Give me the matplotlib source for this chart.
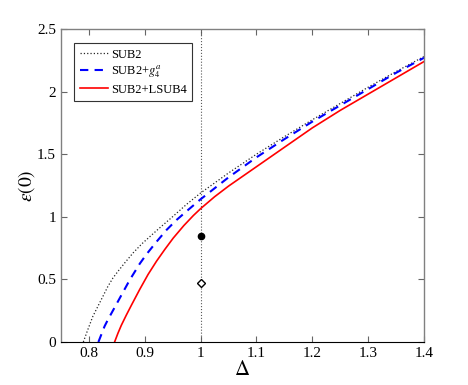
import matplotlib
matplotlib.use('Agg')
import matplotlib.pyplot as plt
from matplotlib.ticker import FuncFormatter

plt.rcParams['font.family'] = ['Liberation Serif', 'DejaVu Serif']
plt.rcParams['mathtext.fontset'] = 'stix'

# SUB2 (dotted)
d_sub2 = [0.790, 0.798, 0.807, 0.816, 0.825, 0.834, 0.843, 0.852, 0.864, 0.879,
          0.895, 0.925, 0.951, 0.975, 1.000, 1.050, 1.100, 1.150, 1.200,
          1.250, 1.300, 1.350, 1.400]
e_sub2 = [0.00, 0.098, 0.204, 0.284, 0.364, 0.444, 0.511, 0.564, 0.631, 0.711,
          0.785, 0.905, 1.005, 1.10, 1.19, 1.35, 1.50, 1.64, 1.775,
          1.905, 2.035, 2.16, 2.28]

# SUB2+g4a (dashed)
d_g4 = [0.817, 0.828, 0.834, 0.852, 0.873, 0.891, 0.903, 0.920, 0.939, 0.957,
        0.975, 1.000, 1.050, 1.100, 1.150, 1.200, 1.250, 1.300, 1.350, 1.400]
e_g4 = [0.00, 0.125, 0.178, 0.324, 0.495, 0.625, 0.70, 0.795, 0.895, 0.975,
        1.045, 1.14, 1.315, 1.475, 1.62, 1.76, 1.89, 2.02, 2.15, 2.27]

# SUB2+LSUB4 (solid)
d_lsub4 = [0.846, 0.852, 0.858, 0.867, 0.876, 0.891, 0.906, 0.921, 0.936,
           0.951, 0.970, 0.987, 1.000, 1.025, 1.050, 1.100, 1.150, 1.200,
           1.250, 1.300, 1.350, 1.400]
e_lsub4 = [0.00, 0.07, 0.133, 0.215, 0.293, 0.42, 0.54, 0.645, 0.74,
           0.83, 0.93, 1.01, 1.065, 1.16, 1.245, 1.40, 1.555, 1.71,
           1.85, 1.98, 2.11, 2.24]

# single points at Delta = 1
pt_filled = (1.0, 0.849)
pt_open = (1.0, 0.474)

xticks = [0.8, 0.9, 1.0, 1.1, 1.2, 1.3, 1.4]
yticks = [0, 0.5, 1, 1.5, 2, 2.5]

fig = plt.figure(figsize=(4.68, 3.85), dpi=100)
ax = fig.add_axes([0.1303, 0.1117, 0.7757, 0.813])

ax.axvline(1.0, color='0.35', linestyle=':', linewidth=0.8)
ax.plot(d_sub2, e_sub2, ':', color='0.15', linewidth=0.9, label='SUB2')
ax.plot(d_g4, e_g4, '--', color='b', linewidth=1.5, dashes=(4, 3),
        label=r'SUB2+$g_4^a$')
ax.plot(d_lsub4, e_lsub4, '-', color='r', linewidth=1.2, label='SUB2+LSUB4')
ax.plot([pt_filled[0]], [pt_filled[1]], 'o', color='k', markersize=4.5)
ax.plot([pt_open[0]], [pt_open[1]], 'D', markerfacecolor='w',
        markeredgecolor='k', markersize=4, markeredgewidth=1.0)

ax.set_xlim(0.75, 1.4)
ax.set_ylim(0, 2.5)
ax.set_xticks(xticks)
ax.set_yticks(yticks)
ax.xaxis.set_major_formatter(FuncFormatter(lambda v, p: '%g' % round(v, 3)))
ax.yaxis.set_major_formatter(FuncFormatter(lambda v, p: '%g' % round(v, 3)))
ax.tick_params(direction='in', top=True, right=True, labelsize=11,
               length=4, color='0.4')

for s in ['left', 'top', 'right']:
    ax.spines[s].set_color('0.5')
    ax.spines[s].set_linewidth(1.0)
ax.spines['bottom'].set_color('k')

ax.set_xlabel(r'$\Delta$', fontsize=15, labelpad=1)
ax.set_ylabel(r'$\varepsilon(0)$', fontsize=14)
ax.yaxis.set_label_coords(-0.066, 0.5)

leg = ax.legend(loc='upper left', bbox_to_anchor=(0.036, 0.955), fontsize=9,
                fancybox=False, framealpha=1, edgecolor='0.2',
                borderaxespad=0, handlelength=2.3, handletextpad=0.2,
                borderpad=0.45, labelspacing=0.25)
leg.get_frame().set_linewidth(0.8)

fig.savefig('out.png', dpi=100)
